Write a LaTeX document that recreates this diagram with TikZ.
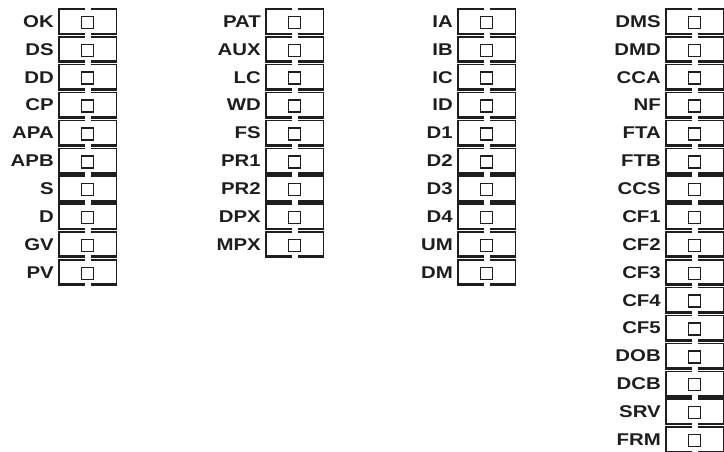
\documentclass[tikz,border=0pt]{standalone}
\usepackage{fontspec}
\newfontfamily\lblfont[FakeStretch=1.2]{Liberation Sans}
\usepackage{tikz}
\usetikzlibrary{positioning,calc}
\definecolor{dipink}{HTML}{1E1E1E}
\tikzset{
  swbox/.style={minimum width=57pt,minimum height=24.5pt,inner sep=0pt,anchor=north west},
  swlabel/.style={font=\lblfont\bfseries\fontsize{17}{17}\selectfont,text=dipink,anchor=east,inner sep=0pt},
  swframe/.style={draw=dipink,line width=1.5pt},
  swbar/.style={draw=dipink,line width=2.8pt},
  swknob/.style={draw=dipink,line width=1.4pt,minimum size=12pt,inner sep=0pt}
}

\begin{document}
\begin{tikzpicture}[x=1pt,y=1pt]
\useasboundingbox (0,0) rectangle (724,-451);
\foreach \cx/\col/\lbls in {59/a/{OK,DS,DD,CP,APA,APB,S,D,GV,PV},
    266/b/{PAT,AUX,LC,WD,FS,PR1,PR2,DPX,MPX},
    458/c/{IA,IB,IC,ID,D1,D2,D3,D4,UM,DM},
    666/d/{DMS,DMD,CCA,NF,FTA,FTB,CCS,CF1,CF2,CF3,CF4,CF5,DOB,DCB,SRV,FRM}}{
  \foreach \lbl [count=\i from 0] in \lbls{
    \node[swbox] (\col\i) at (\cx,{-9-27.87*\i}) {};
    \node[swlabel] (\col\i-l) at ([xshift=-5pt]\col\i.west) {\lbl};
    % two halves of the frame, open at the middle
    \draw[swframe] ([xshift=-3pt]\col\i.north) -| (\col\i.south west);
    \draw[swframe] ([xshift=3pt]\col\i.north) -| (\col\i.south east);
    \draw[swbar] ([xshift=-0.7pt]\col\i.south west) -- ([xshift=-3pt]\col\i.south);
    \draw[swbar] ([xshift=0.7pt]\col\i.south east) -- ([xshift=3pt]\col\i.south);
    \node[swknob] (\col\i-k) at ([yshift=-1pt]\col\i.center) {};
  }
}
\end{tikzpicture}
\end{document}
